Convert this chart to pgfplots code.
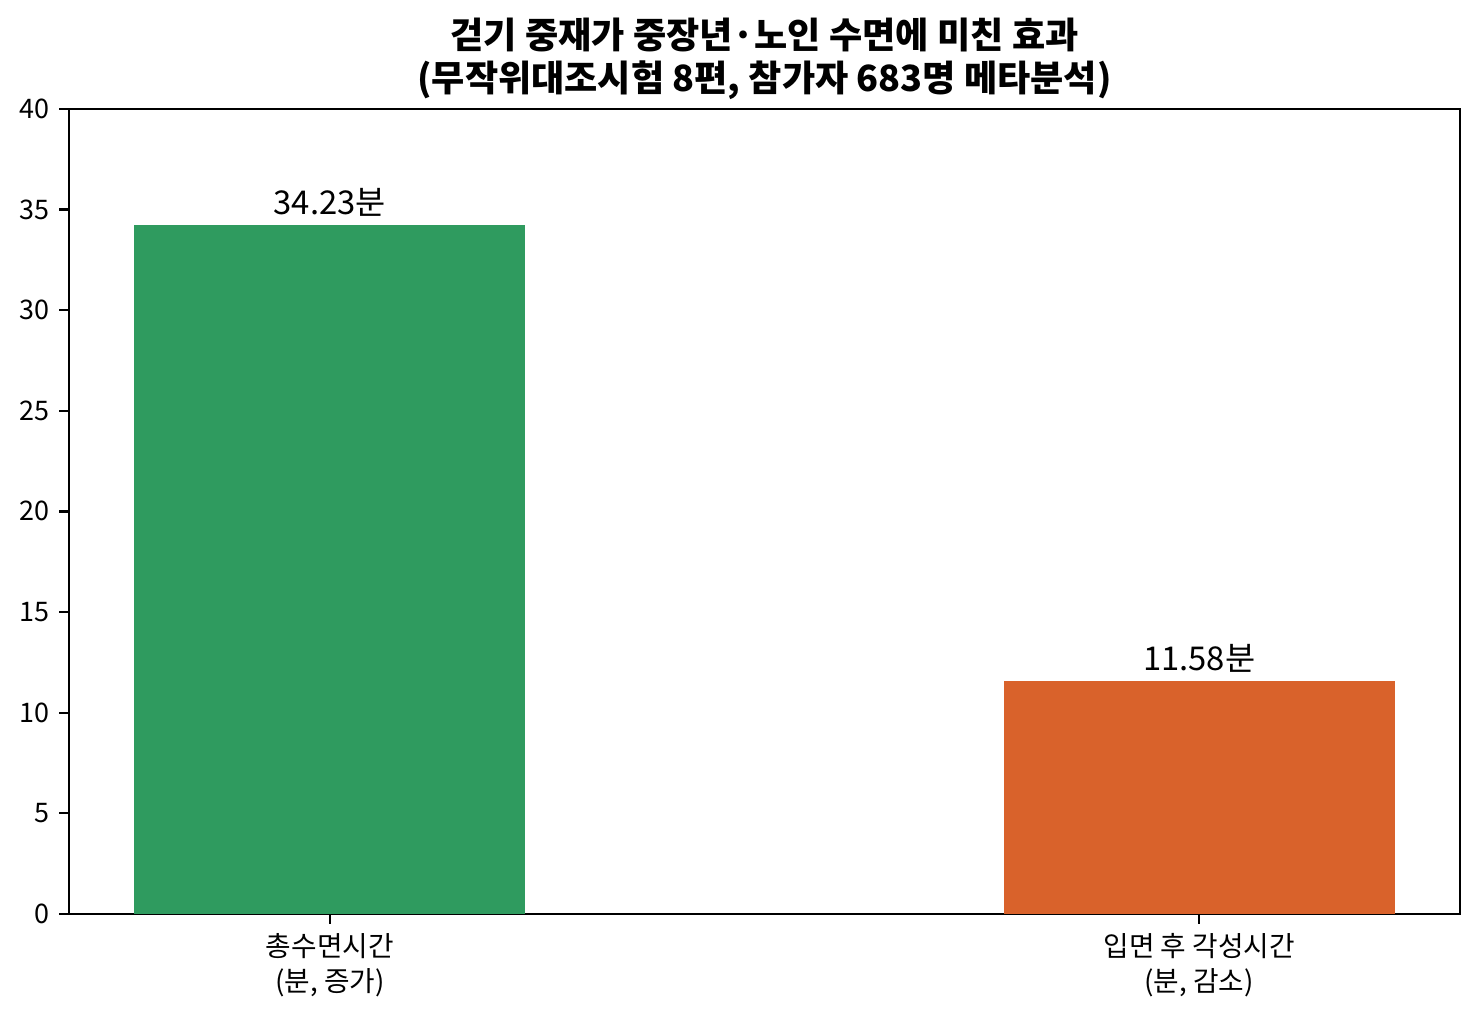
\documentclass[border=0pt]{standalone}
\usepackage{pgfplots}
\pgfplotsset{compat=1.18}
\usepackage{fontspec}
\setmainfont{Noto Sans CJK KR}
\definecolor{cgreen}{HTML}{2F9B5F}
\definecolor{corange}{HTML}{D9622B}
\begin{document}
\begin{tikzpicture}[x=1pt,y=1pt]
\path[use as bounding box] (-24.84,-37.8) rectangle (507.6,329.0);
\begin{axis}[
  at={(0,0)}, anchor=south west,
  scale only axis,
  width=500.76pt, height=289.8pt,
  xmin=-0.3, xmax=1.3,
  ymin=0, ymax=40,
  ytick={0,5,...,40},
  xtick={0,1},
  xticklabels={{총수면시간\\(분, 증가)},{입면 후 각성시간\\(분, 감소)}},
  xticklabel style={align=center, font=\fontsize{10}{12.6}\selectfont},
  yticklabel style={font=\fontsize{9.7}{11}\selectfont},
  /pgf/number format/assume math mode=true,
  tick align=outside,
  major tick length=3.5pt,
  axis x line*=box, axis y line*=box,
  xtick pos=bottom, ytick pos=left,
  axis line style={line width=0.8pt},
  tick style={line width=0.8pt, black},
  ybar, bar width=0.45,
  title={\textbf{걷기 중재가 중장년·노인 수면에 미친 효과}\\\textbf{(무작위대조시험 8편, 참가자 683명 메타분석)}},
  title style={align=center, font=\fontsize{13}{15.5}\selectfont, yshift=-6.4pt},
  nodes near coords={\pgfmathprintnumber[fixed,precision=2,fixed zerofill]{\pgfplotspointmeta}분},
  nodes near coords style={font=\fontsize{11.8}{13}\selectfont, black, yshift=-0.5pt},
]
\addplot[fill=cgreen, draw=none, bar shift=0pt] coordinates {(0,34.23)};
\addplot[fill=corange, draw=none, bar shift=0pt] coordinates {(1,11.58)};
\end{axis}
\end{tikzpicture}
\end{document}
